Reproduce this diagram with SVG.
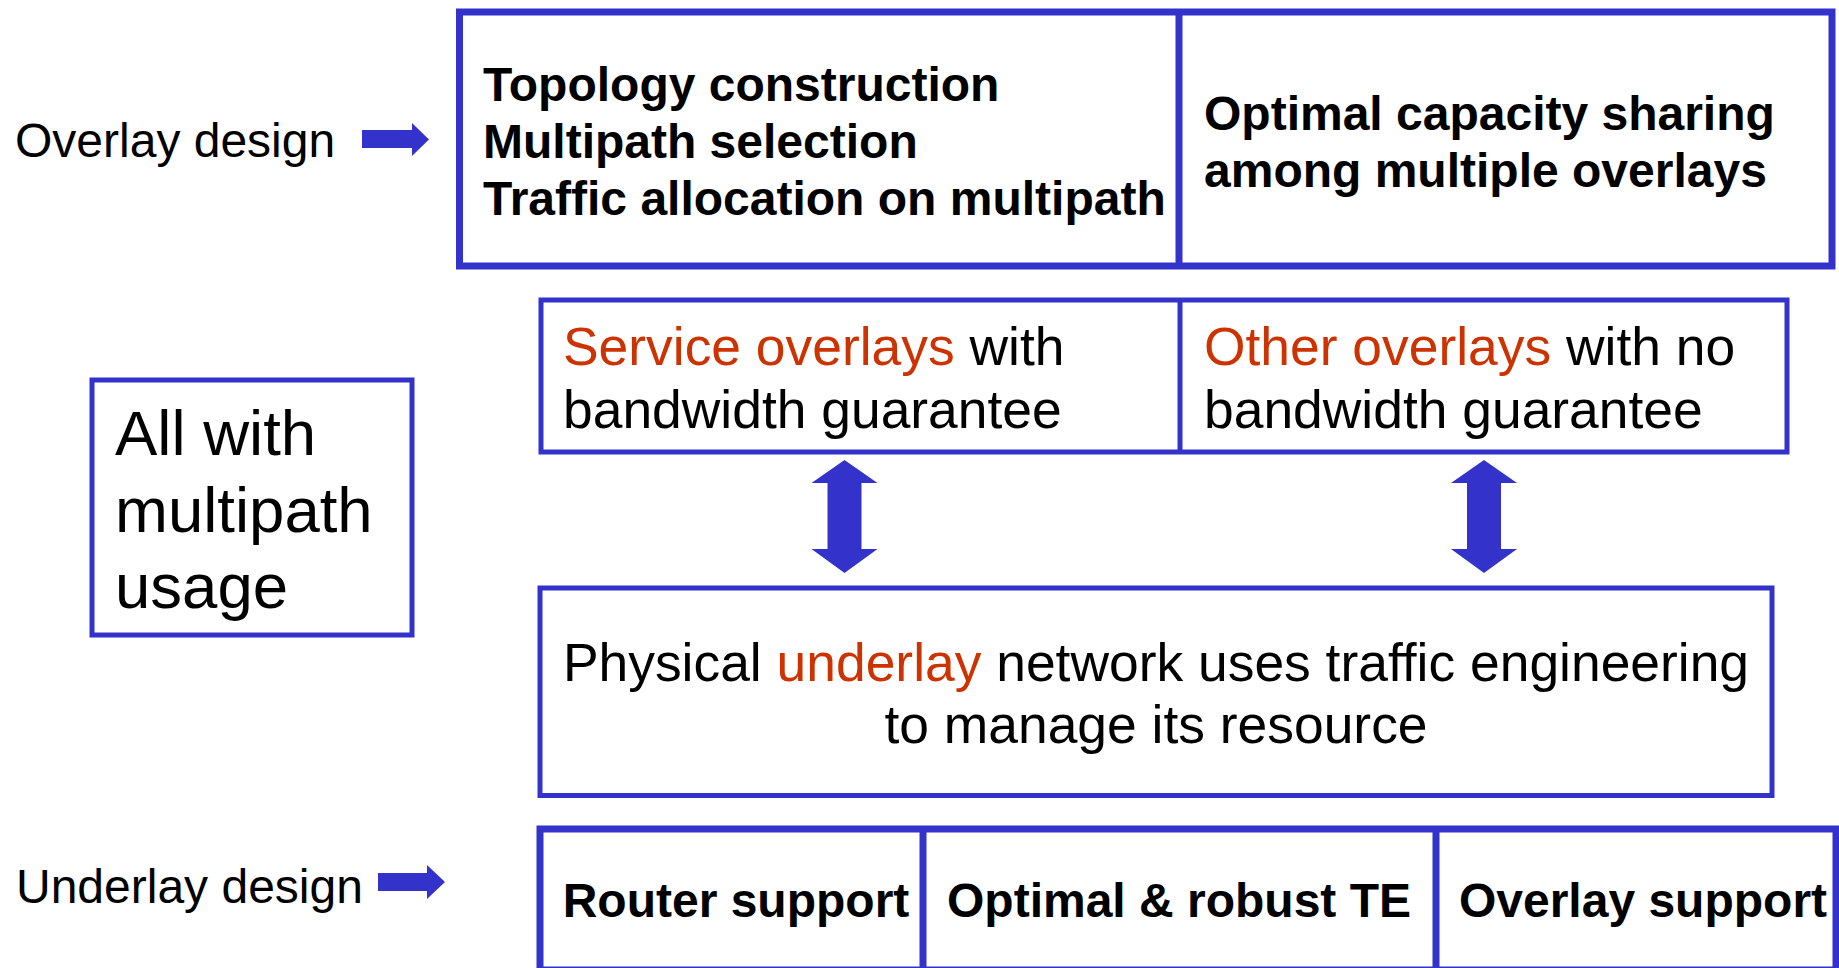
<svg xmlns="http://www.w3.org/2000/svg" width="1839" height="968" viewBox="0 0 1839 968">
<style>
.box{fill:#fff;stroke:#3333CC;stroke-width:5}
.thick{stroke-width:7}
.ln{stroke:#3333CC;fill:none}
.arr{fill:#3333CC}
text{font-family:"Liberation Sans",Arial,Helvetica,sans-serif;fill:#000}
.b48{font-size:48px;font-weight:bold}
.r48{font-size:48px}
.r53{font-size:53.4px}
.r62{font-size:63.5px}
.red{fill:#CC3300}
</style>
<rect width="1839" height="968" fill="#fff"/>

<g id="label-overlay-design">
<text class="r48" x="15" y="157">Overlay design</text>
</g>
<g id="label-underlay-design">
<text class="r48" x="16" y="903">Underlay design</text>
</g>

<g id="overlay-design-box">
<rect class="box thick" x="459.5" y="12" width="1372.5" height="254"/>
<line class="ln" x1="1179" y1="12" x2="1179" y2="266" stroke-width="7"/>
</g>
<g id="overlay-tasks">
<text class="b48" x="483" y="101">Topology construction</text>
<text class="b48" x="483" y="158">Multipath selection</text>
<text class="b48" x="483" y="215">Traffic allocation on multipath</text>
</g>
<g id="capacity-sharing">
<text class="b48" x="1204" y="130">Optimal capacity sharing</text>
<text class="b48" x="1204" y="187">among multiple overlays</text>
</g>

<g id="overlays-row">
<rect class="box" x="541" y="300" width="1246" height="152"/>
<line class="ln" x1="1180" y1="300" x2="1180" y2="452" stroke-width="5"/>
</g>
<g id="service-overlays">
<text class="r53" x="563" y="365"><tspan class="red">Service overlays</tspan> with</text>
<text class="r53" x="563" y="428">bandwidth guarantee</text>
</g>
<g id="other-overlays">
<text class="r53" x="1204" y="365"><tspan class="red">Other overlays</tspan> with no</text>
<text class="r53" x="1204" y="428">bandwidth guarantee</text>
</g>

<g id="multipath-usage">
<rect class="box" x="92" y="380" width="320" height="255"/>
<text class="r62" x="115" y="455">All with</text>
<text class="r62" x="115" y="532">multipath</text>
<text class="r62" x="115" y="608">usage</text>
</g>

<g id="physical-underlay">
<rect class="box" x="540" y="588" width="1232" height="207.5"/>
<text class="r53" x="1156" y="681" text-anchor="middle">Physical <tspan class="red">underlay</tspan> network uses traffic engineering</text>
<text class="r53" x="1156" y="743" text-anchor="middle">to manage its resource</text>
</g>

<g id="underlay-row">
<rect class="box thick" x="540" y="829" width="1296" height="141"/>
<line class="ln" x1="923" y1="829" x2="923" y2="970" stroke-width="7"/>
<line class="ln" x1="1436" y1="829" x2="1436" y2="970" stroke-width="7"/>
</g>
<g id="router-support">
<text class="b48" x="736" y="917" text-anchor="middle">Router support</text>
</g>
<g id="optimal-te">
<text class="b48" x="1179" y="917" text-anchor="middle">Optimal &amp; robust TE</text>
</g>
<g id="overlay-support">
<text class="b48" x="1643" y="917" text-anchor="middle">Overlay support</text>
</g>

<g id="connectors">
<polygon class="arr" points="362,130 412,130 412,123 429,139.5 412,156 412,148 362,148"/>
<polygon class="arr" points="378,873 427,873 427,865 445,882 427,899 427,891 378,891"/>
<polygon class="arr" points="844.5,460 877.5,483 861.5,483 861.5,549 877.5,549 844.5,573 811.5,549 827.5,549 827.5,483 811.5,483"/>
<polygon class="arr" points="1484,460 1517,483 1501,483 1501,549 1517,549 1484,573 1451,549 1467,549 1467,483 1451,483"/>
</g>
</svg>
